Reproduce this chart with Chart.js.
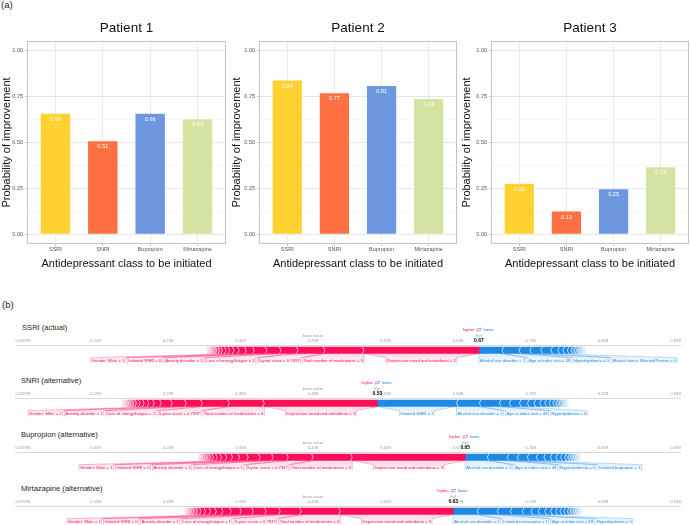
<!DOCTYPE html>
<html><head><meta charset="utf-8">
<script src="https://cdn.jsdelivr.net/npm/chart.js@4.4.1/dist/chart.umd.min.js"></script>
<style>
html,body{margin:0;padding:0;background:#fff;overflow:hidden;}
body{width:690px;height:525px;position:relative;font-family:"Liberation Sans",Arial,Helvetica,sans-serif;}
canvas{position:absolute;}
.lbl{position:absolute;white-space:nowrap;color:#222;line-height:1;}
</style></head><body>
<div class="lbl" style="left:1px;top:0px;font-size:9.5px;">(a)</div>
<div class="lbl" style="left:2px;top:300px;font-size:9.5px;">(b)</div>
<canvas id="bar1" width="230" height="275" style="left:0;top:0;"></canvas>
<canvas id="bar2" width="230" height="275" style="left:230px;top:0;"></canvas>
<canvas id="bar3" width="230" height="275" style="left:460px;top:0;"></canvas>
<div class="lbl" style="left:22px;top:324px;font-size:7.6px;">SSRI (actual)</div>
<div class="lbl" style="left:21px;top:377px;font-size:7.6px;">SNRI (alternative)</div>
<div class="lbl" style="left:21px;top:431px;font-size:7.6px;">Bupropion (alternative)</div>
<div class="lbl" style="left:21px;top:485px;font-size:7.6px;">Mirtazapine (alternative)</div>
<canvas id="f1" width="690" height="48" style="left:0;top:325px;"></canvas>
<canvas id="f2" width="690" height="48" style="left:0;top:378px;"></canvas>
<canvas id="f3" width="690" height="48" style="left:0;top:432px;"></canvas>
<canvas id="f4" width="690" height="48" style="left:0;top:486px;"></canvas>
<script>
// ---------- data: part (a) ----------
const categories = ['SSRI', 'SNRI', 'Bupropion', 'Mirtazapine'];
const patientTitles = ['Patient 1', 'Patient 2', 'Patient 3'];
const patient1 = [0.66, 0.51, 0.66, 0.63];
const patient2 = [0.84, 0.77, 0.81, 0.74];
const patient3 = [0.28, 0.13, 0.25, 0.37];
const yTicks = [0, 0.25, 0.5, 0.75, 1];
const yMinorTicks = [0.125, 0.375, 0.625, 0.875];

// ---------- data: part (b) ----------
const baseValue = 0.43798;
const forceTicks = [0.03798, 0.13798, 0.23798, 0.33798, 0.43798, 0.53798, 0.63798, 0.73798, 0.83798, 0.93798];
const forceTickLabels = ['0.03798', '0.138', '0.238', '0.338', '0.438', '0.538', '0.638', '0.738', '0.838', '0.938'];

const ssriUpLabels = ['Depressive mood and anhedonia = 3', 'Total number of medications = 6', '5-year score = 0.7937', 'Loss of energy/fatigue = 1', 'Anxiety disorder = 1', 'Initiated SNRI = 0', 'Gender: Male = 1'];
const ssriUpValues = [0.1586, 0.0538, 0.0372, 0.0234, 0.0195, 0.0175, 0.0110];
const ssriUpSmall = [0.0097, 0.007, 0.006, 0.005, 0.005, 0.004, 0.004, 0.003, 0.003, 0.002, 0.002, 0.002, 0.001, 0.001];
const ssriDownLabels = ['Alcohol use disorder = 1', 'Age at index visit = 49', 'Hyperlipidemia = 0', 'Marital status: Married/Partner = 0'];
const ssriDownValues = [0.0317, 0.0234, 0.0152, 0.0150];
const ssriDownSmall = [0.0138, 0.0097, 0.007, 0.006, 0.005, 0.004, 0.004, 0.003, 0.003, 0.002, 0.002, 0.002];

const snriUpLabels = ['Depressive mood and anhedonia = 3', 'Total number of medications = 6', '5-year score = 0.7937', 'Loss of energy/fatigue = 1', 'Anxiety disorder = 1', 'Gender: Male = 1'];
const snriUpValues = [0.1559, 0.0483, 0.0372, 0.0221, 0.0193, 0.0152];
const snriUpSmall = [0.0097, 0.0075, 0.0065, 0.0055, 0.005, 0.004, 0.0035, 0.003, 0.0025, 0.002, 0.002, 0.0015, 0.001];
const snriDownLabels = ['Initiated SNRI = 1', 'Alcohol use disorder = 1', 'Age at index visit = 49', 'Hyperlipidemia = 0'];
const snriDownValues = [0.1090, 0.0317, 0.0276, 0.0138];
const snriDownSmall = [0.0138, 0.011, 0.009, 0.008, 0.007, 0.006, 0.005, 0.0045, 0.004, 0.0035, 0.003, 0.0025, 0.002, 0.0015];

const bupUpLabels = ['Depressive mood and anhedonia = 3', 'Total number of medications = 6', '5-year score = 0.7937', 'Loss of energy/fatigue = 1', 'Anxiety disorder = 1', 'Initiated SNRI = 0', 'Gender: Male = 1'];
const bupUpValues = [0.1559, 0.0538, 0.0345, 0.0207, 0.0179, 0.0165, 0.0120];
const bupUpSmall = [0.0097, 0.008, 0.007, 0.006, 0.005, 0.0045, 0.004, 0.0035, 0.003, 0.0025, 0.002, 0.0015];
const bupDownLabels = ['Alcohol use disorder = 1', 'Age at index visit = 49', 'Hyperlipidemia = 0', 'Initiated bupropion = 1'];
const bupDownValues = [0.0303, 0.0276, 0.0138, 0.0138];
const bupDownSmall = [0.0125, 0.0105, 0.009, 0.0075, 0.0065, 0.0055, 0.0045, 0.004, 0.0035, 0.003, 0.0025, 0.002, 0.0015];

const mirUpLabels = ['Depressive mood and anhedonia = 3', 'Total number of medications = 6', '5-year score = 0.7937', 'Loss of energy/fatigue = 1', 'Anxiety disorder = 1', 'Initiated SNRI = 0', 'Gender: Male = 1'];
const mirUpValues = [0.1559, 0.0538, 0.0290, 0.0193, 0.0179, 0.0165, 0.0138];
const mirUpSmall = [0.0115, 0.009, 0.008, 0.007, 0.006, 0.005, 0.0045, 0.004, 0.003, 0.0025, 0.002, 0.0015];
const mirDownLabels = ['Alcohol use disorder = 1', 'Initiated mirtazapine = 1', 'Age at index visit = 49', 'Hyperlipidemia = 0'];
const mirDownValues = [0.0331, 0.0276, 0.0179, 0.0166];
const mirDownSmall = [0.012, 0.01, 0.009, 0.008, 0.007, 0.006, 0.005, 0.005, 0.004, 0.004, 0.003, 0.003, 0.002, 0.002, 0.0015];

// ---------- styles ----------
const FONT = '"Liberation Sans", Arial, Helvetica, sans-serif';
Chart.defaults.font.family = FONT;
const barColors = ['#FFD232', '#FF7043', '#6D98E0', '#D4E3A1'];
const RED = '#FF0D57', BLUE = '#1E88E5';
const RED_RGB = '255,13,87', BLUE_RGB = '30,136,229';

// ---------- part (a): bar charts ----------
const panelBorder = {
  id: 'panelBorder',
  afterDraw(chart) {
    const {ctx, chartArea: a} = chart;
    ctx.save();
    ctx.strokeStyle = '#C4C4C4';
    ctx.lineWidth = 1;
    ctx.strokeRect(a.left + 0.5, a.top + 0.5, a.right - a.left - 1, a.bottom - a.top - 1);
    ctx.restore();
  }
};
const barLabels = {
  id: 'barLabels',
  afterDatasetsDraw(chart) {
    const {ctx} = chart;
    const meta = chart.getDatasetMeta(0);
    const ds = chart.data.datasets[0].data;
    ctx.save();
    ctx.fillStyle = '#FFFFFF';
    ctx.font = `5.6px ${FONT}`;
    ctx.textAlign = 'center';
    ctx.textBaseline = 'middle';
    meta.data.forEach((el, i) => {
      ctx.fillText(ds[i].y.toFixed(2), el.x, el.y + 6.2);
    });
    ctx.restore();
  }
};

function barChart(id, values, title, axisW, plotRight) {
  const unitPx = (plotRight - axisW) / 4.2;
  new Chart(document.getElementById(id), {
    type: 'bar',
    data: {
      datasets: [{
        data: values.map((v, i) => ({x: i + 1, y: v})),
        backgroundColor: barColors,
        borderColor: 'rgba(255,255,255,0.35)',
        borderWidth: 1,
        borderSkipped: false,
        barThickness: unitPx * 0.65
      }]
    },
    options: {
      responsive: false, animation: false, devicePixelRatio: 1,
      layout: {padding: {left: 0, right: 230 - plotRight, top: 0, bottom: 4.4}},
      plugins: {
        legend: {display: false}, tooltip: {enabled: false},
        title: {display: true, text: title, fullSize: false, color: '#111',
          font: {size: 13.5, weight: 'normal'}, padding: {top: 20.1, bottom: 4.7}}
      },
      scales: {
        x: {
          type: 'linear', min: 0.4, max: 4.6, offset: false,
          afterBuildTicks: s => { s.ticks = categories.map((c, i) => ({value: i + 1})); },
          afterFit: s => { s.height = 26.6; },
          ticks: {callback: v => categories[v - 1], font: {size: 5.5}, color: '#555', padding: 0.5, autoSkip: false, maxRotation: 0},
          grid: {color: '#E4E4E4', lineWidth: 0.8, tickLength: 2, tickColor: '#B8B8B8', offset: false},
          border: {display: false},
          title: {display: true, text: 'Antidepressant class to be initiated', color: '#111', font: {size: 11}, padding: 0}
        },
        y: {
          min: -0.05, max: 1.05,
          afterBuildTicks: s => { s.ticks = yTicks.concat(yMinorTicks).sort((a, b) => a - b).map(v => ({value: v})); },
          afterFit: s => { s.width = axisW; },
          ticks: {callback: v => (yTicks.includes(v) ? v.toFixed(2) : ''), font: {size: 5.5}, color: '#555', padding: 2, autoSkip: false},
          grid: {
            color: c => (c.tick && yTicks.includes(c.tick.value) ? '#E0E0E0' : '#F0F0F0'),
            lineWidth: c => (c.tick && yTicks.includes(c.tick.value) ? 0.8 : 0.5),
            tickLength: 2,
            tickColor: c => (c.tick && yTicks.includes(c.tick.value) ? '#B8B8B8' : 'rgba(0,0,0,0)')
          },
          border: {display: false},
          title: {display: true, text: 'Probability of improvement', color: '#111', font: {size: 11}, padding: 0}
        }
      }
    },
    plugins: [panelBorder, barLabels]
  });
}
barChart('bar1', patient1, patientTitles[0], 27, 226);
barChart('bar2', patient2, patientTitles[1], 29, 227);
barChart('bar3', patient3, patientTitles[2], 31, 229);

// ---------- part (b): force plots ----------
function forcePlot(id, upLabels, upValues, upSmall, downLabels, downValues, downSmall) {
  const up = upValues.concat(upSmall);
  const upLab = upLabels.concat(upSmall.map(() => ''));
  const down = downValues.concat(downSmall);
  const downLab = downLabels.concat(downSmall.map(() => ''));
  const sumUp = up.reduce((a, b) => a + b, 0);
  const sumDown = down.reduce((a, b) => a + b, 0);
  const fx = baseValue + sumUp - sumDown;
  const upSegs = []; let cur = fx;
  up.forEach((v, i) => { upSegs.push({x0: cur - v, x1: cur, label: upLab[i]}); cur -= v; });
  const downSegs = []; cur = fx;
  down.forEach((v, i) => { downSegs.push({x0: cur, x1: cur + v, label: downLab[i]}); cur += v; });

  const plug = {
    id: 'force',
    afterDatasetsDraw(chart) {
      const {ctx} = chart; const xs = chart.scales.x;
      const el = chart.getDatasetMeta(0).data[0];
      const mid = el.y, top = el.y - el.height / 2, bot = el.y + el.height / 2;
      const d = 1.8;
      ctx.save();
      ctx.strokeStyle = '#FFFFFF';
      ctx.lineWidth = 0.7;
      upSegs.forEach((s, i) => {
        if (i === upSegs.length - 1) return;
        const p = xs.getPixelForValue(s.x0);
        ctx.beginPath(); ctx.moveTo(p - d, top - 0.5); ctx.lineTo(p, mid); ctx.lineTo(p - d, bot + 0.5); ctx.stroke();
      });
      downSegs.forEach((s, i) => {
        if (i === downSegs.length - 1) return;
        const p = xs.getPixelForValue(s.x1);
        ctx.beginPath(); ctx.moveTo(p + d, top - 0.5); ctx.lineTo(p, mid); ctx.lineTo(p + d, bot + 0.5); ctx.stroke();
      });
      // fading tails
      const sp = xs.getPixelForValue(upSegs[upSegs.length - 1].x0);
      let g = ctx.createLinearGradient(sp, 0, sp + 16, 0);
      g.addColorStop(0, 'rgba(255,255,255,0.8)'); g.addColorStop(1, 'rgba(255,255,255,0)');
      ctx.fillStyle = g; ctx.fillRect(sp - 1, top - 1, 17, el.height + 2);
      const ep = xs.getPixelForValue(downSegs[downSegs.length - 1].x1);
      g = ctx.createLinearGradient(ep, 0, ep - 16, 0);
      g.addColorStop(0, 'rgba(255,255,255,0.8)'); g.addColorStop(1, 'rgba(255,255,255,0)');
      ctx.fillStyle = g; ctx.fillRect(ep - 16, top - 1, 17, el.height + 2);
      ctx.restore();
    },
    afterDraw(chart) {
      const {ctx} = chart; const xs = chart.scales.x;
      const el = chart.getDatasetMeta(0).data[0];
      const bot = el.y + el.height / 2;
      const axisTop = chart.chartArea.top;
      const fxPx = xs.getPixelForValue(fx);
      const basePx = xs.getPixelForValue(baseValue);
      const lt = bot + 4.2, lb = bot + 10, ty = bot + 7.1;
      ctx.save();
      ctx.font = `4.2px ${FONT}`;
      ctx.textBaseline = 'middle';
      ctx.textAlign = 'center';
      function drawLabel(a, b, l, r, text, rgb, color) {
        let g = ctx.createLinearGradient(0, bot, 0, lb);
        g.addColorStop(0, `rgba(${rgb},0.16)`); g.addColorStop(1, `rgba(${rgb},0.02)`);
        ctx.fillStyle = g;
        ctx.beginPath();
        ctx.moveTo(a, bot); ctx.lineTo(b, bot); ctx.lineTo(r, lt); ctx.lineTo(r, lb); ctx.lineTo(l, lb); ctx.lineTo(l, lt); ctx.closePath();
        ctx.fill();
        ctx.strokeStyle = `rgba(${rgb},0.55)`;
        ctx.lineWidth = 0.5;
        ctx.beginPath(); ctx.moveTo(a, bot); ctx.lineTo(l, lt); ctx.lineTo(l, lb); ctx.stroke();
        ctx.beginPath(); ctx.moveTo(b, bot); ctx.lineTo(r, lt); ctx.lineTo(r, lb); ctx.stroke();
        ctx.fillStyle = color;
        ctx.fillText(text, (l + r) / 2, ty);
      }
      let bound = fxPx;
      upSegs.filter(s => s.label).forEach(s => {
        const w = ctx.measureText(s.label).width + 2;
        const a = xs.getPixelForValue(s.x0), b = xs.getPixelForValue(s.x1);
        let r = (w < b - a) ? (a + b) / 2 + w / 2 : b;
        r = Math.min(r, bound);
        const l = r - w; bound = l - 2;
        drawLabel(a, b, l, r, s.label, RED_RGB, RED);
      });
      bound = fxPx;
      downSegs.filter(s => s.label).forEach(s => {
        const w = ctx.measureText(s.label).width + 2;
        const a = xs.getPixelForValue(s.x0), b = xs.getPixelForValue(s.x1);
        let l = (w < b - a) ? (a + b) / 2 - w / 2 : a;
        l = Math.max(l, bound);
        const r = l + w; bound = r + 2;
        drawLabel(a, b, l, r, s.label, BLUE_RGB, BLUE);
      });
      // texts above axis
      ctx.font = `4.2px ${FONT}`;
      ctx.textAlign = 'center';
      ctx.fillStyle = '#9A9A9A';
      ctx.fillText('base value', basePx, axisTop - 9.5);
      ctx.fillStyle = '#888';
      ctx.fillText('f(x)', fxPx, axisTop - 9.5);
      ctx.font = `bold 5px ${FONT}`;
      const vt = fx.toFixed(2);
      const vw = ctx.measureText(vt).width;
      ctx.fillStyle = '#FFFFFF';
      ctx.fillRect(fxPx - vw / 2 - 0.6, axisTop - 6.8, vw + 1.2, 5.4);
      ctx.fillStyle = '#000';
      ctx.fillText(vt, fxPx, axisTop - 4);
      ctx.font = `4.2px ${FONT}`;
      ctx.textAlign = 'right'; ctx.fillStyle = RED;
      ctx.fillText('higher', fxPx - 4.5, axisTop - 15.2);
      ctx.textAlign = 'left'; ctx.fillStyle = BLUE;
      ctx.fillText('lower', fxPx + 4.5, axisTop - 15.2);
      ctx.lineWidth = 0.5;
      ctx.strokeStyle = RED;
      ctx.beginPath(); ctx.moveTo(fxPx - 2.6, axisTop - 16.2); ctx.lineTo(fxPx + 2.6, axisTop - 16.2);
      ctx.moveTo(fxPx + 1.4, axisTop - 17.2); ctx.lineTo(fxPx + 2.6, axisTop - 16.2); ctx.stroke();
      ctx.strokeStyle = BLUE;
      ctx.beginPath(); ctx.moveTo(fxPx + 2.6, axisTop - 14.4); ctx.lineTo(fxPx - 2.6, axisTop - 14.4);
      ctx.moveTo(fxPx - 1.4, axisTop - 13.4); ctx.lineTo(fxPx - 2.6, axisTop - 14.4); ctx.stroke();
      ctx.restore();
    }
  };

  new Chart(document.getElementById(id), {
    type: 'bar',
    data: {
      labels: ['row'],
      datasets: [
        {data: upSegs.map(s => ({x: [s.x0, s.x1], y: 'row'})), backgroundColor: RED, borderWidth: 0, grouped: false, barThickness: 6.5},
        {data: downSegs.map(s => ({x: [s.x0, s.x1], y: 'row'})), backgroundColor: BLUE, borderWidth: 0, grouped: false, barThickness: 6.5}
      ]
    },
    options: {
      indexAxis: 'y',
      responsive: false, animation: false, devicePixelRatio: 1,
      layout: {padding: {left: 15, right: 10, top: 0, bottom: 17.5}},
      plugins: {legend: {display: false}, tooltip: {enabled: false}, title: {display: false}},
      scales: {
        x: {
          type: 'linear', position: 'top', min: 0.02695, max: 0.9442, offset: false,
          afterBuildTicks: s => { s.ticks = forceTicks.map(v => ({value: v})); },
          afterFit: s => { s.height = 20; },
          ticks: {callback: (v, i) => forceTickLabels[i], font: {size: 4.2}, color: '#9A9A9A', padding: 1.5, autoSkip: false, maxRotation: 0},
          grid: {display: false, drawTicks: false},
          border: {display: true, color: '#D0D0D0', width: 0.8}
        },
        y: {display: false}
      }
    },
    plugins: [plug]
  });
}
forcePlot('f1', ssriUpLabels, ssriUpValues, ssriUpSmall, ssriDownLabels, ssriDownValues, ssriDownSmall);
forcePlot('f2', snriUpLabels, snriUpValues, snriUpSmall, snriDownLabels, snriDownValues, snriDownSmall);
forcePlot('f3', bupUpLabels, bupUpValues, bupUpSmall, bupDownLabels, bupDownValues, bupDownSmall);
forcePlot('f4', mirUpLabels, mirUpValues, mirUpSmall, mirDownLabels, mirDownValues, mirDownSmall);
</script>
</body></html>
